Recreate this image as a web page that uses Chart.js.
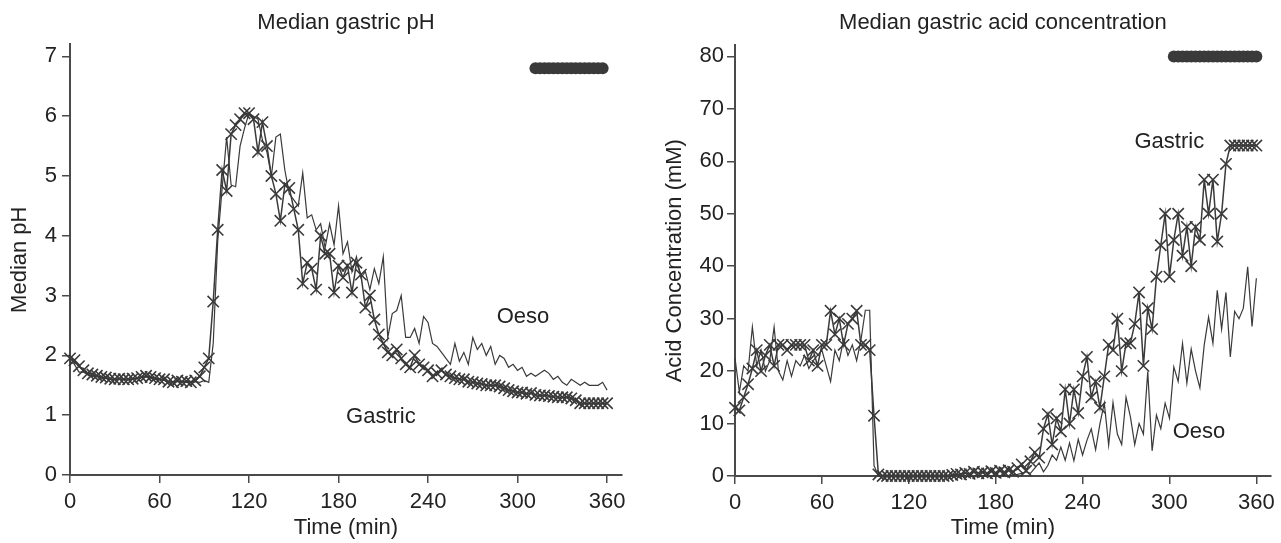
<!DOCTYPE html>
<html><head><meta charset="utf-8">
<script src="https://cdn.jsdelivr.net/npm/chart.js@4.4.1/dist/chart.umd.min.js"></script>
<style>
html,body{margin:0;padding:0;background:#fff;}
#wrap{position:relative;width:1281px;height:543px;overflow:hidden;background:#fff;}
canvas{position:absolute;top:0;}
#c1{left:0;} #c2{left:640px;}
</style></head><body>
<div id="wrap"><canvas id="c1" width="640" height="543"></canvas><canvas id="c2" width="641" height="543"></canvas></div>
<script>
// ---- data (time in minutes, 3-min sampling) ----
const timeMin = [0,3,6,9,12,15,18,21,24,27,
30,33,36,39,42,45,48,51,54,57,
60,63,66,69,72,75,78,81,84,87,
90,93,96,99,102,105,108,111,114,117,
120,123,126,129,132,135,138,141,144,147,
150,153,156,159,162,165,168,171,174,177,
180,183,186,189,192,195,198,201,204,207,
210,213,216,219,222,225,228,231,234,237,
240,243,246,249,252,255,258,261,264,267,
270,273,276,279,282,285,288,291,294,297,
300,303,306,309,312,315,318,321,324,327,
330,333,336,339,342,345,348,351,354,357,
360];

const phGastric = [1.95,1.92,1.82,1.75,1.70,1.68,1.66,1.64,1.63,1.61,
1.60,1.61,1.60,1.60,1.61,1.62,1.64,1.66,1.64,1.62,
1.60,1.60,1.56,1.55,1.58,1.56,1.57,1.55,1.58,1.65,
1.80,1.95,2.90,4.10,5.10,4.75,5.70,5.85,5.95,6.05,
6.05,5.95,5.40,5.90,5.50,5.00,4.70,4.25,4.85,4.80,
4.45,4.10,3.20,3.55,3.45,3.10,4.00,3.70,3.70,3.05,
3.50,3.30,3.50,3.05,3.55,3.35,2.80,3.00,2.60,2.35,
2.20,2.05,2.00,2.10,1.95,1.85,1.80,2.00,1.85,1.80,
1.75,1.65,1.70,1.75,1.68,1.65,1.62,1.60,1.60,1.56,
1.55,1.53,1.52,1.50,1.50,1.50,1.48,1.45,1.42,1.40,
1.38,1.38,1.36,1.37,1.34,1.33,1.33,1.32,1.31,1.30,
1.30,1.30,1.28,1.25,1.20,1.20,1.20,1.20,1.20,1.20,
1.20];

const phOeso = [1.90,1.85,1.72,1.72,1.68,1.65,1.66,1.62,1.62,1.60,
1.60,1.60,1.60,1.60,1.60,1.62,1.63,1.64,1.62,1.60,
1.60,1.58,1.56,1.55,1.56,1.56,1.55,1.55,1.56,1.55,
1.58,1.55,2.20,3.90,4.80,5.65,4.85,4.82,5.50,5.80,
6.05,6.00,5.95,5.60,5.40,5.00,5.65,5.70,5.10,4.70,
4.60,4.50,5.05,4.30,4.35,4.10,4.20,3.80,4.20,3.85,
4.50,3.70,3.90,3.40,3.65,3.30,3.40,3.10,3.45,3.20,
3.65,2.30,2.70,2.75,3.00,2.30,2.30,2.45,2.20,2.65,
2.55,2.20,2.15,2.05,1.95,1.85,2.20,1.90,2.05,1.85,
2.30,2.10,2.20,2.00,2.15,1.85,2.00,1.95,1.80,1.85,
1.75,1.80,1.65,1.70,1.65,1.70,1.75,1.70,1.60,1.65,
1.55,1.50,1.60,1.55,1.50,1.55,1.50,1.50,1.50,1.55,
1.42];

const acidGastric = [13.0,12.5,15.0,17.5,20.5,24.0,20.0,23.0,25.0,21.0,
25.0,25.0,24.0,25.0,25.0,25.0,25.0,22.0,24.0,21.0,
25.0,25.0,31.5,27.0,30.0,25.0,29.0,30.0,31.5,25.0,
25.0,24.0,11.5,0.3,0,0,0,0,0,0,
0,0,0,0,0,0,0,0,0,0,
0.2,0.4,0.3,0.6,0.4,0.8,0.5,0.7,0.5,0.9,
0.6,1.0,0.7,1.1,0.8,1.5,2.2,1.0,2.8,4.5,
3.5,9.0,11.8,6.0,11.0,8.5,16.5,10.0,16.5,12.0,
19.0,22.7,15.0,18.0,13.0,19.0,25.0,24.0,30.0,20.0,
25.3,25.3,29.0,35.0,21.0,32.0,28.0,38.0,44.0,50.0,
38.0,45.0,50.0,42.0,47.5,40.0,47.5,45.0,56.5,50.0,
56.5,44.7,50.0,59.5,63.0,63.0,63.0,63.0,63.0,63.0,
63.0];

const acidOeso = [22.5,16.0,21.0,20.0,28.4,21.0,24.0,20.0,22.0,28.4,
20.0,18.3,22.0,19.0,22.0,21.0,23.0,20.5,22.0,23.0,
24.0,21.0,18.0,24.0,22.0,26.0,23.0,25.0,22.0,26.0,
31.6,31.6,2.0,0,0,0,0,0,0,0,
0,0,0,0,0,0,0,0,0,0,
0,0,0,0,0,0,0,0,0,0,
0,0,0,0,0.2,0.3,0.5,0.8,0.5,1.5,
2.5,0.8,2.0,4.0,3.0,5.5,3.0,6.3,2.9,7.0,
4.0,6.8,9.0,5.0,10.0,13.9,5.9,14.0,8.0,6.0,
15.0,11.3,6.0,10.0,8.0,19.9,4.8,11.6,9.0,13.9,
11.0,20.8,18.0,25.3,17.7,24.2,20.0,16.8,25.0,30.3,
25.3,35.4,28.0,35.0,22.7,31.4,30.0,32.0,39.9,28.5,
37.7];

// time points marked with filled circles (top band)
const sigTimesPH = [312,315,318,321,324,327,330,333,336,339,342,345,348,351,354,357];
const sigLevelPH = [6.8,6.8,6.8,6.8,6.8,6.8,6.8,6.8,6.8,6.8,6.8,6.8,6.8,6.8,6.8,6.8];
const sigTimesAcid = [303,306,309,312,315,318,321,324,327,330,333,336,339,342,345,348,351,354,357,360];
const sigLevelAcid = [80,80,80,80,80,80,80,80,80,80,80,80,80,80,80,80,80,80,80,80];

const xTickStep = 60;

// ---- styling ----
const INK = '#3a3a3a';
const AX = '#4a4a4a';
const TXT = '#222222';
const FONT = '"Liberation Sans", Arial, Helvetica, sans-serif';

function pts(xs, ys){ return xs.map((x,i)=>({x:x, y:ys[i]})); }

function labelPlugin(items){
  return {
    id:'inlineLabels',
    afterDatasetsDraw(chart){
      const ctx = chart.ctx, xs = chart.scales.x, ys = chart.scales.y;
      ctx.save();
      ctx.fillStyle = TXT;
      ctx.font = '22px ' + FONT;
      ctx.textAlign = 'center';
      ctx.textBaseline = 'middle';
      items.forEach(it => ctx.fillText(it.text, xs.getPixelForValue(it.x), ys.getPixelForValue(it.y)));
      ctx.restore();
    }
  };
}

function build(canvasId, o){
  return new Chart(document.getElementById(canvasId), {
    type:'line',
    data:{datasets:[
      {label:'Gastric', data:pts(timeMin, o.gastric), borderColor:INK, borderWidth:1.5,
       pointStyle:'crossRot', pointRadius:8, pointBorderWidth:1.6, pointBorderColor:INK,
       pointBackgroundColor:'rgba(0,0,0,0)', tension:0, clip:false},
      {label:'Oeso', data:pts(timeMin, o.oeso), borderColor:INK, borderWidth:1.2,
       pointRadius:0, tension:0, clip:false},
      {label:'Significant', data:pts(o.sigT, o.sigY), showLine:false, pointStyle:'circle',
       pointRadius:6, pointBorderWidth:0, pointBackgroundColor:INK, backgroundColor:INK, borderColor:INK, clip:false}
    ]},
    options:{
      responsive:false, animation:false, events:[],
      layout:{padding:{left:0, right:o.padRight, top:0, bottom:0}},
      plugins:{
        legend:{display:false}, tooltip:{enabled:false},
        title:{display:true, text:o.title, color:TXT, fullSize:false,
          font:{family:FONT, size:22, weight:'normal'}, padding:{top:o.titleTop, bottom:o.titleBottom}}
      },
      scales:{
        x:{type:'linear', min:0, max:370,
          afterFit(s){ s.height = o.xHeight; },
          border:{display:true, color:AX, width:2},
          grid:{drawOnChartArea:false, drawTicks:true, tickLength:8, color:AX, lineWidth:1.5},
          ticks:{stepSize:xTickStep, includeBounds:false, autoSkip:false, maxRotation:0, color:TXT,
            font:{family:FONT, size:22}, padding:6},
          title:{display:true, text:'Time (min)', color:TXT, font:{family:FONT, size:22}, padding:{top:0, bottom:2}}
        },
        y:{min:0, max:o.yMax,
          afterFit(s){ s.width = o.yWidth; },
          border:{display:true, color:AX, width:2},
          grid:{drawOnChartArea:false, drawTicks:true, tickLength:8, color:AX, lineWidth:1.5},
          ticks:{stepSize:o.yStep, includeBounds:false, color:TXT, font:{family:FONT, size:22}, padding:o.yPad},
          title:{display:true, text:o.yTitle, color:TXT, font:{family:FONT, size:22}, padding:{top:o.yTitleTop, bottom:0}}
        }
      }
    },
    plugins:[labelPlugin(o.labels)]
  });
}

build('c1', {
  gastric:phGastric, oeso:phOeso, sigT:sigTimesPH, sigY:sigLevelPH,
  title:'Median gastric pH', yTitle:'Median pH', yMax:7.2, yStep:1, yPad:5,
  yWidth:70, xHeight:68, padRight:18, titleTop:10, titleBottom:8, yTitleTop:7,
  labels:[{text:'Oeso', x:303.6, y:2.64},{text:'Gastric', x:208.4, y:0.97}]
});
build('c2', {
  gastric:acidGastric, oeso:acidOeso, sigT:sigTimesAcid, sigY:sigLevelAcid,
  title:'Median gastric acid concentration', yTitle:'Acid Concentration (mM)', yMax:82.1, yStep:10, yPad:3,
  yWidth:95, xHeight:67, padRight:4, titleTop:10, titleBottom:9, yTitleTop:22,
  labels:[{text:'Gastric', x:299.9, y:63.6},{text:'Oeso', x:320.4, y:8.4}]
});
</script>
</body></html>
